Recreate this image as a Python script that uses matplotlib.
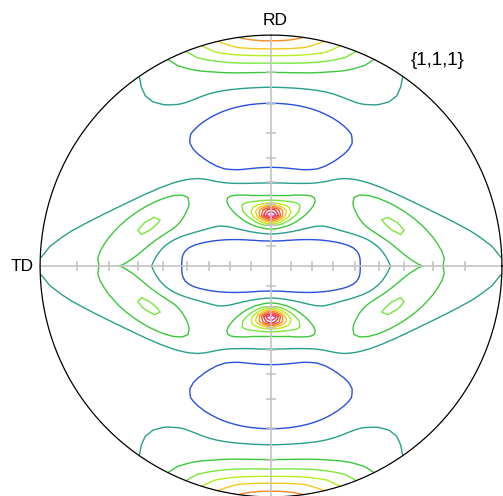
import numpy as np
import matplotlib
matplotlib.use("Agg")
import matplotlib.pyplot as plt

# pole figure {1,1,1}, stereographic projection, unit radius
levels = [1, 2, 3, 4, 5, 6, 7, 8, 9, 10, 11]
level_colors = ['#2a50e0', '#28a08c', '#3cc83c', '#78e63c', '#b4f01e', '#f5c81e',
                '#f58c28', '#f05a28', '#f03232', '#f03278', '#ff28c8']

background = 1.3

# peaks given in (r, phi) of the projection plane, phi from TD in degrees
pol_r = [1.0, 0.57]
pol_phi = [90, 90]
pol_sr = [0.085, 0.125]
pol_sphi = [17, 27]
pol_pr = [1.5, 4]
pol_pphi = [2.2, 4]
pol_amp = [6.3, -1.1]

# peaks given in x/y of the projection plane (first quadrant, mirrored)
cart_x = [0.0, 0.0, 0.0, 0.54, 0.45, 0.22]
cart_y = [0.225, 0.232, 0.0, 0.165, 0.72, 0.19]
cart_sx = [0.036, 0.11, 0.39, 0.19, 0.15, 0.11]
cart_sy = [0.022, 0.04, 0.11, 0.06, 0.07, 0.06]
cart_ang = [0, 0, 0, 141, 0, 20]
cart_bend = [0, 1.4, 0, 0, 0, 0]
cart_px = [2, 2, 4, 2, 2, 2]
cart_py = [2, 2, 4, 2, 2, 2]
cart_amp = [5.5, 3.3, -2.3, 1.77, 0.55, -0.35]

# broad band along TD, narrowing towards the rim
band_amp = 1.15
band_sx = 1.6
band_sy = 0.36
band_xend = 1.02
band_taper = 0.65
band_py = 8

tick_angles = np.arange(10, 90, 10)


def intensity(x, y):
    x = np.abs(x)
    y = np.abs(y)
    r = np.hypot(x, y)
    phi = np.degrees(np.arctan2(y, x))
    z = np.full_like(x, background)
    for r0, p0, sr, sp, pr, pph, a in zip(pol_r, pol_phi, pol_sr, pol_sphi, pol_pr, pol_pphi, pol_amp):
        q = np.abs((r - r0) / sr) ** pr + np.abs((phi - p0) / sp) ** pph
        z += a * np.exp(-0.5 * q)
    for x0, y0, sx, sy, ang, bend, px, py, a in zip(cart_x, cart_y, cart_sx, cart_sy, cart_ang,
                                                    cart_bend, cart_px, cart_py, cart_amp):
        t = np.radians(ang)
        u = (x - x0) * np.cos(t) + (y - y0) * np.sin(t)
        v = -(x - x0) * np.sin(t) + (y - y0) * np.cos(t) - bend * u ** 2
        q = np.abs(u / sx) ** px + np.abs(v / sy) ** py
        z += a * np.exp(-0.5 * q)
    sy = band_sy * np.clip(1 - (x / band_xend) ** 2, 1e-4, None) ** band_taper
    z += band_amp * np.exp(-0.5 * (x / band_sx) ** 2 - 0.5 * (y / sy) ** band_py)
    return z


# 2.5 degree measuring grid in tilt and azimuth
psi = np.radians(np.arange(0, 90.01, 2.5))
azi = np.radians(np.arange(0, 360.01, 2.5))
rr, pp = np.meshgrid(np.tan(psi / 2), azi)
X = rr * np.cos(pp)
Y = rr * np.sin(pp)
Z = intensity(X, Y)

fig = plt.figure(figsize=(5.03, 4.96), dpi=100)
ax = fig.add_axes([0, 0, 1, 1])
ax.set_xlim(-1.173, 1.004)
ax.set_ylim(-0.996, 1.152)
ax.set_aspect('equal')
ax.axis('off')

ax.contour(X, Y, Z, levels=levels, colors=level_colors, linewidths=1.0)

# axes through the centre with 10 degree stereographic ticks
grey = '#c4c4c4'
ax.plot([-1, 1], [0, 0], color=grey, lw=1.2)
ax.plot([0, 0], [-1, 1], color=grey, lw=1.2)
tr = np.tan(np.radians(tick_angles) / 2)
tl = 0.016
for s in (-1, 1):
    for t in tr:
        ax.plot([s * t, s * t], [-tl, tl], color=grey, lw=1.2)
        ax.plot([-tl, tl], [s * t, s * t], color=grey, lw=1.2)

th = np.linspace(0, 2 * np.pi, 721)
ax.plot(np.cos(th), np.sin(th), color='black', lw=0.9)

font = 'Liberation Sans'
ax.text(0.019, 1.062, 'RD', ha='center', va='center', fontsize=12.5, family=font)
ax.text(-1.078, 0.0, 'TD', ha='center', va='center', fontsize=12.5, family=font)
ax.text(0.723, 0.892, '{1,1,1}', ha='center', va='center', fontsize=13.5, family=font)

fig.savefig('out.png', dpi=100)
